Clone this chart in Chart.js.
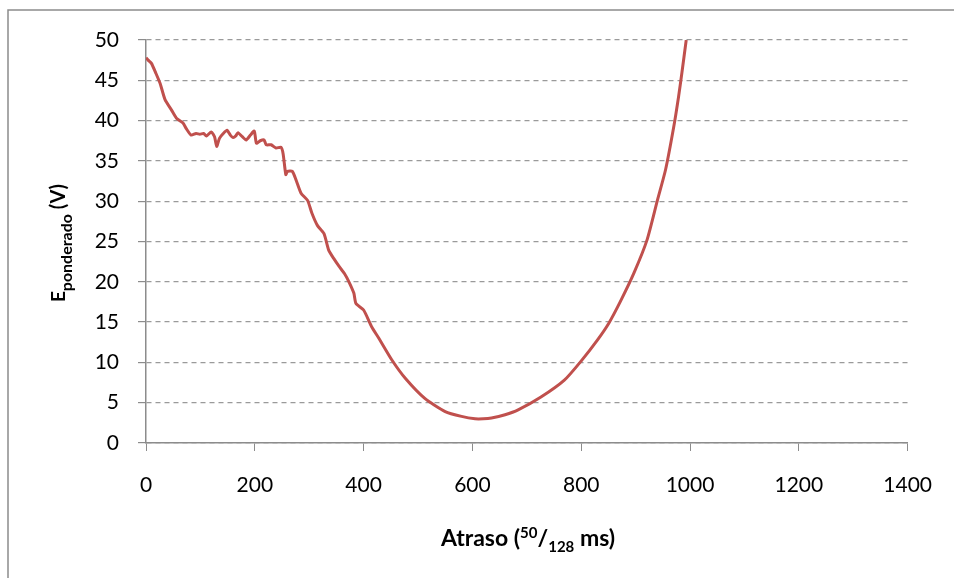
<!DOCTYPE html>
<html>
<head>
<meta charset="utf-8">
<script src="https://cdn.jsdelivr.net/npm/chart.js@4/dist/chart.umd.min.js"></script>
<style>
  html, body { margin: 0; padding: 0; background: #fff; }
  #wrap { width: 954px; height: 578px; }
</style>
</head>
<body>
<div id="wrap"><canvas id="delayChart" width="954" height="578"></canvas></div>
<script>
// Atraso (50/128 ms) vs E ponderado (V)
const delays = [0, 4, 10, 18, 26, 35, 47, 56, 68, 74,
  83, 92, 99, 106, 111, 120, 126, 130, 135, 142,
  149, 155, 160, 165, 169, 177, 184, 192, 199, 203,
  210, 217, 221, 230, 239, 248, 252, 257, 260, 269,
  276, 285, 297, 305, 315, 327, 336, 345, 355, 365,
  373, 382, 386, 400, 415, 428, 452, 477, 513, 550,
  580, 605, 620, 635, 660, 684, 726, 769, 799, 830,
  851, 873, 897, 921, 940, 955, 970, 979, 985, 993];
const energy = [47.8, 47.5, 47.1, 45.9, 44.6, 42.6, 41.3, 40.3, 39.7, 39.0,
  38.2, 38.4, 38.3, 38.4, 38.1, 38.6, 38.0, 36.8, 37.8, 38.4,
  38.8, 38.2, 37.9, 38.1, 38.5, 38.0, 37.6, 38.2, 38.7, 37.2,
  37.5, 37.6, 37.0, 37.0, 36.6, 36.7, 35.9, 33.3, 33.7, 33.7,
  32.6, 31.0, 30.1, 28.5, 27.0, 26.0, 23.9, 22.9, 21.9, 21.0,
  20.0, 18.6, 17.3, 16.5, 14.4, 13.0, 10.3, 8.0, 5.5, 3.9,
  3.3, 3.0, 3.0, 3.1, 3.5, 4.1, 5.7, 7.8, 10.1, 12.8,
  14.9, 17.7, 21.1, 25.2, 30.1, 33.9, 39.2, 43.0, 45.9, 50.0];
const xTicks = [0, 200, 400, 600, 800, 1000, 1200, 1400];
const yTicks = [0, 5, 10, 15, 20, 25, 30, 35, 40, 45, 50];

const FONT = 'Lato, "Liberation Sans", sans-serif';

// draw a run of text pieces (with sub/superscripts) centred on x
function drawRich(ctx, parts, cx, baseY) {
    let total = 0;
    parts.forEach(p => {
        ctx.font = 'bold ' + p.size + 'px ' + FONT;
        p.w = ctx.measureText(p.text).width;
        total += p.w;
    });
    let x = cx - total / 2;
    ctx.textAlign = 'left';
    ctx.textBaseline = 'alphabetic';
    parts.forEach(p => {
        ctx.font = 'bold ' + p.size + 'px ' + FONT;
        ctx.fillText(p.text, x, baseY + (p.dy || 0));
        x += p.w;
    });
}

const decorations = {
    id: 'decorations',
    afterDraw(chart) {
        const ctx = chart.ctx;
        ctx.save();
        // outer frame
        ctx.strokeStyle = '#8c8c8c';
        ctx.lineWidth = 1.5;
        ctx.beginPath();
        ctx.moveTo(8, 578);
        ctx.lineTo(8, 10);
        ctx.lineTo(954, 10);
        ctx.stroke();

        ctx.fillStyle = '#000';
        // x axis title
        drawRich(ctx, [
            { text: 'Atraso (', size: 23 },
            { text: '50', size: 15, dy: -8 },
            { text: '/', size: 23 },
            { text: '128', size: 15, dy: 6 },
            { text: ' ms)', size: 23 }
        ], 528, 546);

        // y axis title
        ctx.translate(65, 243);
        ctx.rotate(-Math.PI / 2);
        drawRich(ctx, [
            { text: 'E', size: 19 },
            { text: 'ponderado', size: 16, dy: 7 },
            { text: ' (V)', size: 20 }
        ], 0, 0);
        ctx.restore();
    }
};

const ctx = document.getElementById('delayChart').getContext('2d');
new Chart(ctx, {
    type: 'line',
    data: {
        datasets: [{
            data: delays.map((d, i) => ({ x: d, y: energy[i] })),
            borderColor: '#c0504d',
            borderWidth: 3,
            pointRadius: 0,
            tension: 0.2,
            fill: false
        }]
    },
    options: {
        responsive: false,
        animation: false,
        layout: { padding: { left: 0, top: 40, right: 42, bottom: 0 } },
        plugins: {
            legend: { display: false },
            tooltip: { enabled: false }
        },
        scales: {
            x: {
                type: 'linear',
                min: 0,
                max: 1400,
                afterFit: s => { s.height = 135; },
                afterBuildTicks: s => { s.ticks = xTicks.map(v => ({ value: v })); },
                grid: {
                    drawOnChartArea: false,
                    drawTicks: true,
                    tickLength: 8,
                    color: '#8c8c8c'
                },
                border: { color: '#8c8c8c', width: 1.5 },
                ticks: {
                    color: '#000',
                    padding: 22,
                    maxRotation: 0,
                    font: { family: FONT, size: 21 },
                    callback: v => String(v)
                }
            },
            y: {
                min: 0,
                max: 50,
                afterFit: s => { s.width = 146; },
                afterBuildTicks: s => { s.ticks = yTicks.map(v => ({ value: v })); },
                grid: {
                    color: '#9a9a9a',
                    lineWidth: 1.2,
                    drawTicks: true,
                    tickLength: 8,
                    tickColor: '#8c8c8c',
                    tickBorderDash: []
                },
                border: { color: '#8c8c8c', width: 1.5, dash: [5, 4] },
                ticks: {
                    color: '#000',
                    padding: 19,
                    font: { family: FONT, size: 21 },
                    callback: v => String(v)
                }
            }
        }
    },
    plugins: [decorations]
});
</script>
</body>
</html>
